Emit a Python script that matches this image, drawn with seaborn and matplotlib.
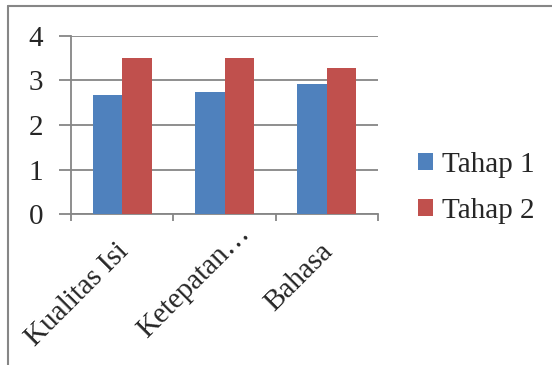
import matplotlib
matplotlib.use("Agg")
import matplotlib.pyplot as plt
import matplotlib.transforms as mtransforms
import seaborn as sns
import pandas as pd
from matplotlib.lines import Line2D
from matplotlib.ticker import FixedLocator

categories = ["Kualitas Isi", "Ketepatan…", "Bahasa"]
series_names = ["Tahap 1", "Tahap 2"]
tahap1 = [2.67, 2.74, 2.91]
tahap2 = [3.5, 3.5, 3.27]
yticks = [0, 1, 2, 3, 4]

sns.set_style("white")
plt.rcParams["font.family"] = ["Liberation Serif", "DejaVu Serif"]

df = pd.DataFrame({
    "cat": categories * 2,
    "val": tahap1 + tahap2,
    "series": [series_names[0]] * 3 + [series_names[1]] * 3,
})

fig = plt.figure(figsize=(5.52, 3.65), dpi=100)
ax = fig.add_axes([71 / 552, 150.7 / 365, 307 / 552, 178.6 / 365])

gray = "#868686"
sns.barplot(data=df, x="cat", y="val", hue="series", order=categories,
            hue_order=series_names, palette=["#4F81BD", "#C0504D"],
            width=0.575, linewidth=0, saturation=1, ax=ax, zorder=3)

ax.set_xlim(-0.5, 2.5)
ax.set_ylim(0, 4)
ax.set_yticks(yticks)
ax.set_yticklabels([str(v) for v in yticks], fontsize=21)
ax.yaxis.grid(True, color=gray, linewidth=1.3, zorder=0)
ax.set_axisbelow(True)
ax.set_xlabel("")
ax.set_ylabel("")

for s in ["top", "right"]:
    ax.spines[s].set_visible(False)
for s in ["left", "bottom"]:
    ax.spines[s].set_color(gray)
    ax.spines[s].set_linewidth(1.3)

ax.tick_params(axis="y", length=9, width=1.3, color=gray, direction="out", pad=11, left=True)
ax.tick_params(axis="x", which="major", length=0, pad=2)
ax.xaxis.set_minor_locator(FixedLocator([-0.5, 0.5, 1.5, 2.5]))
ax.tick_params(axis="x", which="minor", length=5, width=1.3, color=gray, direction="out", bottom=True)

ax.set_xticks(range(len(categories)))
ax.set_xticklabels(categories, fontsize=21, rotation=45, ha="right",
                   va="top", rotation_mode="anchor")
label_shifts = [(-7, -21), (12, -4), (-7, -21)]
for lbl, (dx, dy) in zip(ax.get_xticklabels(), label_shifts):
    offset = mtransforms.ScaledTranslation(dx / 100, dy / 100, fig.dpi_scale_trans)
    lbl.set_transform(lbl.get_transform() + offset)

handles, labels = ax.get_legend_handles_labels()
ax.legend(handles, labels, loc="center left", bbox_to_anchor=(418 / 552, 1 - 188 / 365),
          bbox_transform=fig.transFigure, frameon=False, fontsize=21,
          handlelength=0.52, handleheight=0.52, handletextpad=0.3,
          labelspacing=0.68, borderpad=0, borderaxespad=0)

fig.add_artist(Line2D([8 / 552, 1], [1 - 6 / 365, 1 - 6 / 365], transform=fig.transFigure,
                      color=gray, linewidth=1.5))
fig.add_artist(Line2D([8 / 552, 8 / 552], [0, 1 - 6 / 365], transform=fig.transFigure,
                      color=gray, linewidth=1.5))

fig.savefig("out.png", dpi=100, facecolor="white")
